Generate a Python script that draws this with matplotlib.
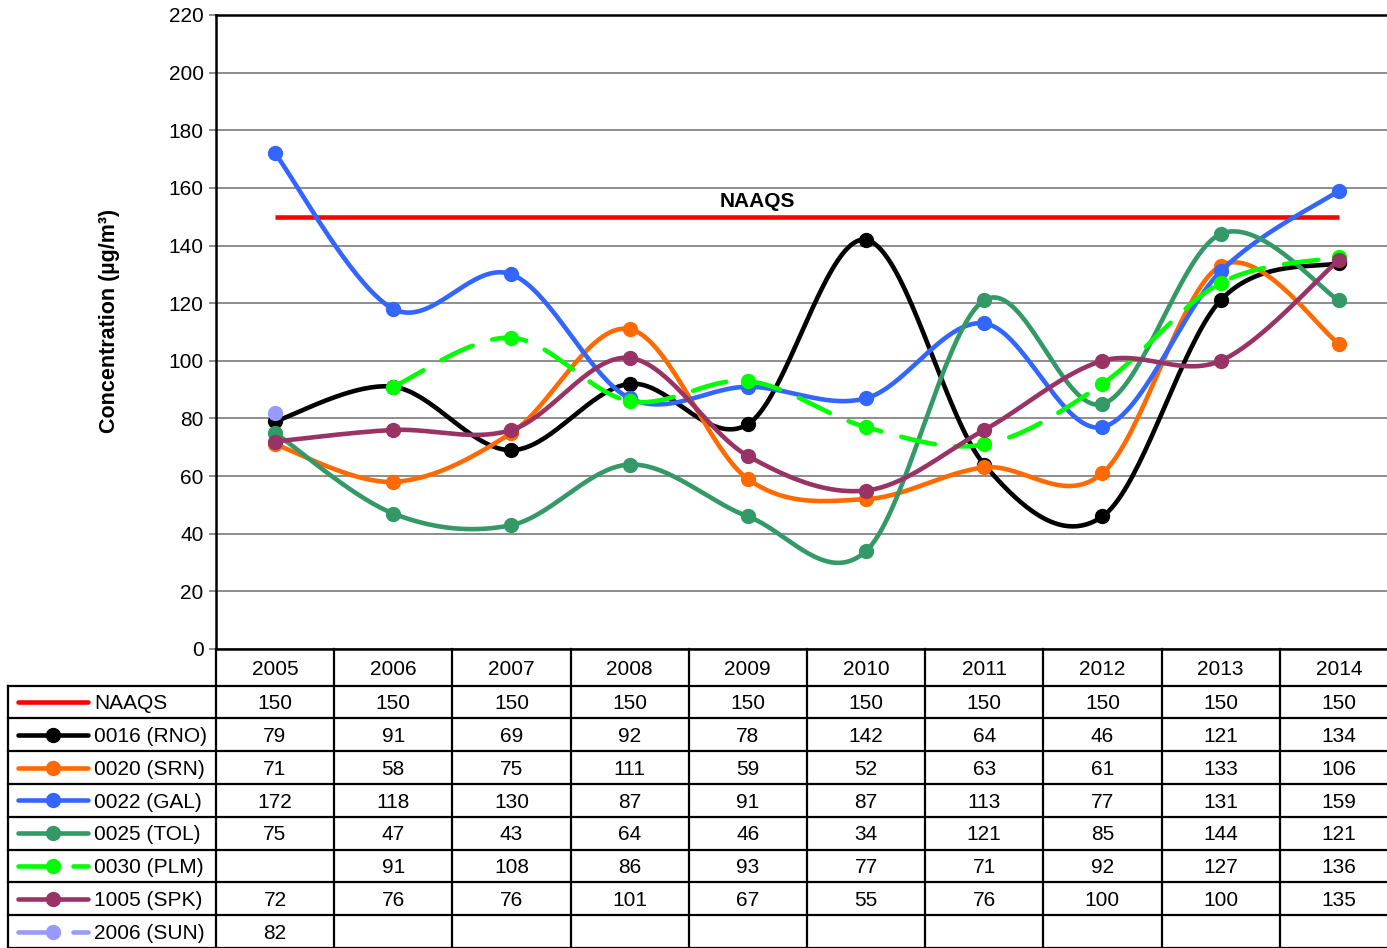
import numpy as np
import matplotlib
matplotlib.use("Agg")
import matplotlib.pyplot as plt
from matplotlib.lines import Line2D

plt.rcParams['font.family'] = ['Liberation Sans', 'DejaVu Sans']

years = ['2005', '2006', '2007', '2008', '2009', '2010', '2011', '2012', '2013', '2014']
series_names = ['NAAQS', '0016 (RNO)', '0020 (SRN)', '0022 (GAL)', '0025 (TOL)',
                '0030 (PLM)', '1005 (SPK)', '2006 (SUN)']
naaqs = [150, 150, 150, 150, 150, 150, 150, 150, 150, 150]
rno = [79, 91, 69, 92, 78, 142, 64, 46, 121, 134]
srn = [71, 58, 75, 111, 59, 52, 63, 61, 133, 106]
gal = [172, 118, 130, 87, 91, 87, 113, 77, 131, 159]
tol = [75, 47, 43, 64, 46, 34, 121, 85, 144, 121]
plm = [None, 91, 108, 86, 93, 77, 71, 92, 127, 136]
spk = [72, 76, 76, 101, 67, 55, 76, 100, 100, 135]
sun = [82, None, None, None, None, None, None, None, None, None]
y_ticks = [0, 20, 40, 60, 80, 100, 120, 140, 160, 180, 200, 220]

series_values = [naaqs, rno, srn, gal, tol, plm, spk, sun]
colors = ['#FF0000', '#000000', '#FF6A00', '#3366FF', '#339966', '#00FF00', '#993366', '#9999FF']
dashed = [False, False, False, False, False, True, False, True]
has_marker = [False, True, True, True, True, True, True, True]

FONT = 15
LW = 3.3
MS = 10
DASH = (0, (7.5, 4.5))

W, H = 1387, 948
fig = plt.figure(figsize=(W / 100, H / 100), dpi=100)

# pixel geometry of the plot frame and table
col_w = 118.2
x0_px = 275.0          # centre of first category
plot_left_px, plot_top_px, plot_bot_px = 216, 15, 649
TXT_DY = 1.8           # baseline nudge for table text (px)


def px_to_x(px):
    return (px - x0_px) / col_w


ax = fig.add_axes([plot_left_px / W, 1 - plot_bot_px / H,
                   1 - plot_left_px / W, (plot_bot_px - plot_top_px) / H])
ax.set_xlim(-0.5, px_to_x(W))
ax.set_ylim(0, 220)
ax.set_yticks(y_ticks)
ax.set_yticklabels([str(t) for t in y_ticks], fontsize=FONT)
ax.set_xticks([])
for t in y_ticks[:-1]:
    ax.axhline(t, color='#7a7a7a', lw=1.2, zorder=0)
ax.tick_params(axis='y', length=5, width=1.2, color='#7a7a7a', pad=4)
ax.spines['right'].set_visible(False)
for s in ['left', 'top', 'bottom']:
    ax.spines[s].set_linewidth(1.8)
    ax.spines[s].set_color('black')


def smooth(xs, ys, n=40):
    """Bezier smoothing through the points (tension 1/6 tangents)."""
    pts = np.column_stack([xs, ys]).astype(float)
    if len(pts) < 2:
        return pts[:, 0], pts[:, 1]
    out = []
    m = len(pts)
    t = np.linspace(0, 1, n)[:, None]
    for i in range(m - 1):
        p0 = pts[max(i - 1, 0)]
        p1 = pts[i]
        p2 = pts[i + 1]
        p3 = pts[min(i + 2, m - 1)]
        c1 = p1 + (p2 - p0) / 6.0
        c2 = p2 - (p3 - p1) / 6.0
        seg = ((1 - t) ** 3) * p1 + 3 * ((1 - t) ** 2) * t * c1 + 3 * (1 - t) * t ** 2 * c2 + t ** 3 * p2
        out.append(seg if i == 0 else seg[1:])
    out = np.vstack(out)
    return out[:, 0], out[:, 1]


xs_all = np.arange(len(years))
for k, vals in enumerate(series_values):
    xs = np.array([x for x, v in zip(xs_all, vals) if v is not None])
    ys = np.array([v for v in vals if v is not None], dtype=float)
    ls = DASH if dashed[k] else '-'
    if k == 0:
        ax.plot(xs, ys, color=colors[k], lw=LW, solid_capstyle='butt', zorder=2)
        continue
    sx, sy = smooth(xs, ys)
    ax.plot(sx, sy, color=colors[k], lw=LW, linestyle=ls, zorder=2 + k,
            solid_capstyle='round', dash_capstyle='round')
    ax.plot(xs, ys, linestyle='none', marker='o', ms=MS, color=colors[k], zorder=2 + k)

ax.text(4.08, 150 + 5.2, 'NAAQS', ha='center', va='center', fontsize=FONT,
        fontweight='bold', zorder=10)

fig.text(110 / W, 1 - 321 / H, 'Concentration (\u00b5g/m\u00b3)', rotation=90,
         ha='center', va='center', fontsize=FONT + 0.5, fontweight='bold')

# data table below the plot
tax = fig.add_axes([0, 0, 1, (H - plot_bot_px) / H])
tax.set_xlim(px_to_x(0), px_to_x(W))
tax.set_ylim(H, plot_bot_px)
tax.axis('off')

header_bot = 685.5
row_h = 32.8
n_rows = len(series_names)
row_edges = [header_bot + i * row_h for i in range(n_rows + 1)]
legend_left = px_to_x(8)

tlw = 1.6
for i in range(len(years) + 1):
    xb = i - 0.5
    tax.plot([xb, xb], [plot_bot_px, H], color='black', lw=tlw, clip_on=False)
tax.plot([legend_left, legend_left], [header_bot, H], color='black', lw=tlw)
for yb in row_edges:
    tax.plot([legend_left, px_to_x(W)], [yb, yb], color='black', lw=tlw)

for i, yr in enumerate(years):
    tax.text(i, (plot_bot_px + header_bot) / 2 + TXT_DY, yr, ha='center', va='center',
             fontsize=FONT)

for r, (name, vals) in enumerate(zip(series_names, series_values)):
    yc = header_bot + (r + 0.5) * row_h
    ls = DASH if dashed[r] else '-'
    tax.add_line(Line2D([px_to_x(18), px_to_x(88)], [yc, yc], color=colors[r], lw=LW,
                        linestyle=ls, solid_capstyle='round', dash_capstyle='round'))
    if has_marker[r]:
        tax.plot([px_to_x(53)], [yc], marker='o', ms=MS, color=colors[r])
    tax.text(px_to_x(94), yc + TXT_DY, name, ha='left', va='center', fontsize=FONT)
    for i, v in enumerate(vals):
        if v is not None:
            tax.text(i, yc + TXT_DY, str(v), ha='center', va='center', fontsize=FONT)

fig.savefig('out.png', dpi=100)
